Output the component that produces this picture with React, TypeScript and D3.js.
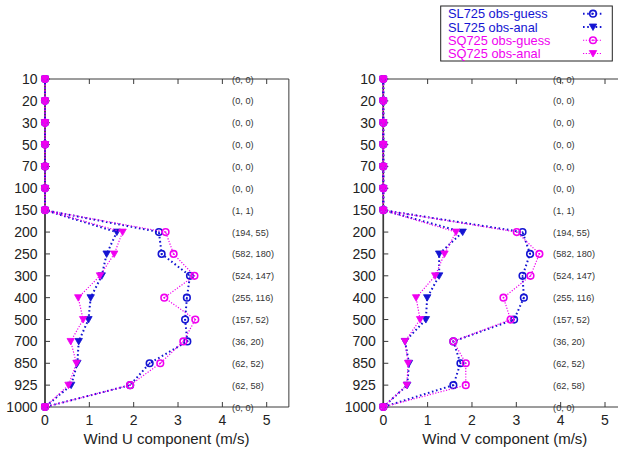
import React from "react";
import * as d3 from "d3";

const levels = ["10", "20", "30", "50", "70", "100", "150", "200", "250", "300", "400", "500", "700", "850", "925", "1000"];
const counts = ["(0, 0)", "(0, 0)", "(0, 0)", "(0, 0)", "(0, 0)", "(0, 0)", "(1, 1)", "(194, 55)", "(582, 180)", "(524, 147)", "(255, 116)", "(157, 52)", "(36, 20)", "(62, 52)", "(62, 58)", "(0, 0)"];
const xTicks = [0, 1, 2, 3, 4, 5];

// U component
const uSLGuess = [0, 0, 0, 0, 0, 0, 0, 2.57, 2.63, 3.27, 3.2, 3.16, 3.21, 2.36, 1.92, 0];
const uSLAnal = [0, 0, 0, 0, 0, 0, 0, 1.62, 1.39, 1.28, 1.03, 0.98, 0.76, 0.73, 0.59, 0];
const uSQGuess = [0, 0, 0, 0, 0, 0, 0, 2.72, 2.9, 3.37, 2.69, 3.39, 3.12, 2.6, 1.92, 0];
const uSQAnal = [0, 0, 0, 0, 0, 0, 0, 1.75, 1.56, 1.24, 0.75, 0.86, 0.58, 0.71, 0.53, 0];

// V component
const vSLGuess = [0, 0, 0, 0, 0, 0, 0, 3.14, 3.31, 3.14, 3.17, 2.95, 1.58, 1.74, 1.58, 0];
const vSLAnal = [0, 0, 0, 0, 0, 0, 0, 1.79, 1.26, 1.26, 0.99, 0.96, 0.49, 0.58, 0.54, 0];
const vSQGuess = [0, 0, 0, 0, 0, 0, 0, 3.01, 3.52, 3.32, 2.71, 2.87, 1.58, 1.86, 1.86, 0];
const vSQAnal = [0, 0, 0, 0, 0, 0, 0, 1.64, 1.38, 1.17, 0.74, 0.83, 0.49, 0.56, 0.53, 0];

const legendLabels = ["SL725 obs-guess", "SL725 obs-anal", "SQ725 obs-guess", "SQ725 obs-anal"];

const BLUE = "#1414d2";
const MAG = "#f000f0";
const FRAME = "#3a3a3a";
const FONT = "'Liberation Sans', Arial, Helvetica, sans-serif";

type Series = { vals: number[]; color: string; marker: "circle" | "tri"; kind: "blue" | "mag" };

const lineStyle = (kind: string) =>
  kind === "blue"
    ? { strokeWidth: 2, strokeDasharray: "1.6,2.6" }
    : { strokeWidth: 1.2, strokeDasharray: "1.2,1.6" };

function Marker({ x, y, type, color }: { x: number; y: number; type: string; color: string }) {
  if (type === "circle") {
    return (
      <g>
        <circle cx={x} cy={y} r={3.3} fill="none" stroke={color} strokeWidth={1.6} />
        <circle cx={x} cy={y} r={0.9} fill={color} />
      </g>
    );
  }
  const s = 3.7;
  const p = d3.path();
  p.moveTo(x - s, y - s * 0.8);
  p.lineTo(x + s, y - s * 0.8);
  p.lineTo(x, y + s * 0.95);
  p.closePath();
  return <path d={p.toString()} fill={color} stroke={color} strokeWidth={0.8} />;
}

function Panel({ x0, x5, title, series, annotX }: { x0: number; x5: number; title: string; series: Series[]; annotX: number }) {
  const unit = (x5 - x0) / 5;
  const x = d3.scaleLinear().domain([0, 5.5]).range([x0, x0 + 5.5 * unit]);
  const y = d3.scalePoint<string>().domain(levels).range([79, 407]);
  const top = y(levels[0])!;
  const bottom = y(levels[levels.length - 1])!;
  const right = x(5.5);
  const line = d3
    .line<number>()
    .x((d) => x(d))
    .y((_, i) => y(levels[i])!);
  return (
    <g>
      <path d={`M${x0},${top}H${right}V${bottom}H${x0}Z`} fill="none" stroke={FRAME} strokeWidth={1} />
      <line x1={x0} x2={x0} y1={top} y2={bottom} stroke={FRAME} strokeWidth={1.6} />
      {xTicks.map((t) => (
        <g key={t}>
          <line x1={x(t)} x2={x(t)} y1={bottom} y2={bottom - 5} stroke={FRAME} />
          <line x1={x(t)} x2={x(t)} y1={top} y2={top + 5} stroke={FRAME} />
          <text x={x(t)} y={425} textAnchor="middle" fontSize={14} fontFamily={FONT} fill="#222">
            {t}
          </text>
        </g>
      ))}
      {levels.map((l) => (
        <g key={l}>
          <line x1={x0} x2={x0 + 5} y1={y(l)} y2={y(l)} stroke={FRAME} />
          <text x={x0 - 7.5} y={y(l)! + 5} textAnchor="end" fontSize={14} fontFamily={FONT} fill="#222">
            {l}
          </text>
        </g>
      ))}
      {levels.map((l, i) => (
        <text key={"c" + l} x={x(annotX)} y={y(l)! + 3.5} fontSize={9.2} fontFamily={FONT} fill="#333">
          {counts[i]}
        </text>
      ))}
      <text x={x0 + 121.5} y={444} textAnchor="middle" fontSize={15} fontFamily={FONT} fill="#222">
        {title}
      </text>
      {series.map((s, si) => (
        <g key={si}>
          <path d={line(s.vals)!} fill="none" stroke={s.color} {...lineStyle(s.kind)} />
          {s.vals.map((v, i) => (
            <Marker key={i} x={x(v)} y={y(levels[i])!} type={s.marker} color={s.color} />
          ))}
        </g>
      ))}
    </g>
  );
}

export default function App() {
  const uSeries: Series[] = [
    { vals: uSLGuess, color: BLUE, marker: "circle", kind: "blue" },
    { vals: uSLAnal, color: BLUE, marker: "tri", kind: "blue" },
    { vals: uSQGuess, color: MAG, marker: "circle", kind: "mag" },
    { vals: uSQAnal, color: MAG, marker: "tri", kind: "mag" },
  ];
  const vSeries: Series[] = [
    { vals: vSLGuess, color: BLUE, marker: "circle", kind: "blue" },
    { vals: vSLAnal, color: BLUE, marker: "tri", kind: "blue" },
    { vals: vSQGuess, color: MAG, marker: "circle", kind: "mag" },
    { vals: vSQAnal, color: MAG, marker: "tri", kind: "mag" },
  ];
  const legY = d3.scalePoint<string>().domain(legendLabels).range([13.7, 53.5]);
  return (
    <svg width={618} height={452} style={{ position: "absolute", left: 0, top: 0, background: "#fff" }}>
      <rect width={618} height={452} fill="#fff" />
      <Panel x0={45} x5={266.7} title="Wind U component (m/s)" series={uSeries} annotX={4.22} />
      <Panel x0={383.3} x5={605} title="Wind V component (m/s)" series={vSeries} annotX={3.83} />
      <rect x={440.7} y={6} width={171.6} height={55} fill="#fff" stroke="#222" strokeWidth={1} />
      {legendLabels.map((lab, i) => {
        const s = uSeries[i];
        const yy = legY(lab)!;
        return (
          <g key={lab}>
            <text x={448} y={yy + 4.6} fontSize={12.8} fontFamily={FONT} fill={s.color}>
              {lab}
            </text>
            <line x1={583} x2={602} y1={yy} y2={yy} stroke={s.color} {...lineStyle(s.kind)} />
            <Marker x={593} y={yy} type={s.marker} color={s.color} />
          </g>
        );
      })}
    </svg>
  );
}
